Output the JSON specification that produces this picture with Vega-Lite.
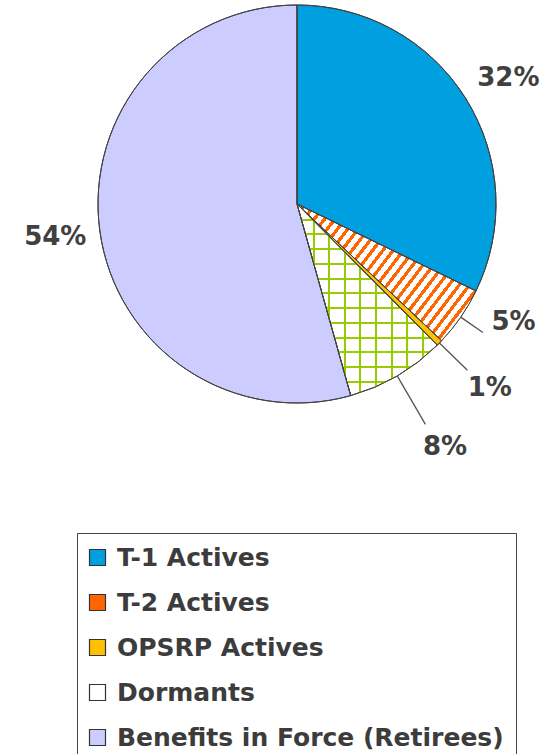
{
  "$schema": "https://vega.github.io/schema/vega-lite/v6.json",
  "width": 400,
  "height": 400,
  "autosize": {"type": "none"},
  "padding": {"left": 97, "top": 4, "right": 47, "bottom": 350},
  "background": "#ffffff",
  "config": {"view": {"stroke": null}},
  "data": {
    "values": [
      {"category": "T-1 Actives", "value": 32.2, "label": "32%", "rank": 1},
      {"category": "T-2 Actives", "value": 4.85, "label": "5%", "rank": 2},
      {"category": "OPSRP Actives", "value": 0.5, "label": "1%", "rank": 3},
      {"category": "Dormants", "value": 8.1, "label": "8%", "rank": 4},
      {"category": "Benefits in Force (Retirees)", "value": 54.35, "label": "54%", "rank": 5}
    ]
  },
  "layer": [
    {
      "mark": {"type": "arc", "radius": 199, "stroke": "#333333", "strokeWidth": 1},
      "encoding": {
        "theta": {"field": "value", "type": "quantitative", "stack": true},
        "order": {"field": "rank", "type": "quantitative"},
        "fill": {
          "field": "category",
          "type": "nominal",
          "scale": {
            "domain": ["T-1 Actives", "T-2 Actives", "OPSRP Actives", "Dormants", "Benefits in Force (Retirees)"],
            "range": ["#00a0e0", "#ff6600", "#ffc000", "#ffffff", "#ccccff"]
          },
          "legend": {
            "orient": "none",
            "legendX": -20,
            "legendY": 529,
            "title": null,
            "symbolType": "square",
            "symbolSize": 256,
            "symbolStrokeColor": "#333333",
            "symbolStrokeWidth": 1,
            "labelFont": "DejaVu Sans",
            "labelFontWeight": "bold",
            "labelFontSize": 25,
            "labelColor": "#3c3c3c",
            "labelOffset": 7,
            "labelLimit": 0,
            "rowPadding": 19,
            "padding": 12,
            "symbolOffset": -4,
            "strokeColor": "#444444",
            "fillColor": "#ffffff",
            "encoding": {
              "symbols": {
                "stroke": {"value": "#333333"},
                "strokeWidth": {"value": 1.2},
                "fill": {"value": {"expr": "datum.value === 'T-2 Actives' ? '#ff9a5c' : datum.value === 'Dormants' ? '#e8f3c4' : scale('fill', datum.value)"}}
              }
            }
          }
        }
      }
    },
    {
      "mark": {"type": "arc", "radius": 199, "strokeWidth": 0},
      "encoding": {
        "theta": {"field": "value", "type": "quantitative", "stack": true},
        "order": {"field": "rank", "type": "quantitative"},
        "fill": {
          "condition": {"test": "datum.category === 'T-2 Actives'", "value": {"gradient": "linear", "x1": 0, "y1": 0, "x2": 1.2, "y2": 0.7, "stops": [
            {"offset": 0, "color": "#ffffff"}, {"offset": 0.0214, "color": "#ffffff"}, {"offset": 0.0214, "color": "rgba(255,255,255,0)"}, {"offset": 0.0357, "color": "rgba(255,255,255,0)"},
            {"offset": 0.0357, "color": "#ffffff"}, {"offset": 0.0571, "color": "#ffffff"}, {"offset": 0.0571, "color": "rgba(255,255,255,0)"}, {"offset": 0.0714, "color": "rgba(255,255,255,0)"},
            {"offset": 0.0714, "color": "#ffffff"}, {"offset": 0.0928, "color": "#ffffff"}, {"offset": 0.0928, "color": "rgba(255,255,255,0)"}, {"offset": 0.1071, "color": "rgba(255,255,255,0)"},
            {"offset": 0.1071, "color": "#ffffff"}, {"offset": 0.1285, "color": "#ffffff"}, {"offset": 0.1285, "color": "rgba(255,255,255,0)"}, {"offset": 0.1429, "color": "rgba(255,255,255,0)"},
            {"offset": 0.1429, "color": "#ffffff"}, {"offset": 0.1643, "color": "#ffffff"}, {"offset": 0.1643, "color": "rgba(255,255,255,0)"}, {"offset": 0.1786, "color": "rgba(255,255,255,0)"},
            {"offset": 0.1786, "color": "#ffffff"}, {"offset": 0.2, "color": "#ffffff"}, {"offset": 0.2, "color": "rgba(255,255,255,0)"}, {"offset": 0.2143, "color": "rgba(255,255,255,0)"},
            {"offset": 0.2143, "color": "#ffffff"}, {"offset": 0.2357, "color": "#ffffff"}, {"offset": 0.2357, "color": "rgba(255,255,255,0)"}, {"offset": 0.25, "color": "rgba(255,255,255,0)"},
            {"offset": 0.25, "color": "#ffffff"}, {"offset": 0.2714, "color": "#ffffff"}, {"offset": 0.2714, "color": "rgba(255,255,255,0)"}, {"offset": 0.2857, "color": "rgba(255,255,255,0)"},
            {"offset": 0.2857, "color": "#ffffff"}, {"offset": 0.3071, "color": "#ffffff"}, {"offset": 0.3071, "color": "rgba(255,255,255,0)"}, {"offset": 0.3214, "color": "rgba(255,255,255,0)"},
            {"offset": 0.3214, "color": "#ffffff"}, {"offset": 0.3428, "color": "#ffffff"}, {"offset": 0.3428, "color": "rgba(255,255,255,0)"}, {"offset": 0.3571, "color": "rgba(255,255,255,0)"},
            {"offset": 0.3571, "color": "#ffffff"}, {"offset": 0.3785, "color": "#ffffff"}, {"offset": 0.3785, "color": "rgba(255,255,255,0)"}, {"offset": 0.3929, "color": "rgba(255,255,255,0)"},
            {"offset": 0.3929, "color": "#ffffff"}, {"offset": 0.4143, "color": "#ffffff"}, {"offset": 0.4143, "color": "rgba(255,255,255,0)"}, {"offset": 0.4286, "color": "rgba(255,255,255,0)"},
            {"offset": 0.4286, "color": "#ffffff"}, {"offset": 0.45, "color": "#ffffff"}, {"offset": 0.45, "color": "rgba(255,255,255,0)"}, {"offset": 0.4643, "color": "rgba(255,255,255,0)"},
            {"offset": 0.4643, "color": "#ffffff"}, {"offset": 0.4857, "color": "#ffffff"}, {"offset": 0.4857, "color": "rgba(255,255,255,0)"}, {"offset": 0.5, "color": "rgba(255,255,255,0)"},
            {"offset": 0.5, "color": "#ffffff"}, {"offset": 0.5214, "color": "#ffffff"}, {"offset": 0.5214, "color": "rgba(255,255,255,0)"}, {"offset": 0.5357, "color": "rgba(255,255,255,0)"},
            {"offset": 0.5357, "color": "#ffffff"}, {"offset": 0.5571, "color": "#ffffff"}, {"offset": 0.5571, "color": "rgba(255,255,255,0)"}, {"offset": 0.5714, "color": "rgba(255,255,255,0)"},
            {"offset": 0.5714, "color": "#ffffff"}, {"offset": 0.5928, "color": "#ffffff"}, {"offset": 0.5928, "color": "rgba(255,255,255,0)"}, {"offset": 0.6071, "color": "rgba(255,255,255,0)"},
            {"offset": 0.6071, "color": "#ffffff"}, {"offset": 0.6285, "color": "#ffffff"}, {"offset": 0.6285, "color": "rgba(255,255,255,0)"}, {"offset": 0.6429, "color": "rgba(255,255,255,0)"},
            {"offset": 0.6429, "color": "#ffffff"}, {"offset": 0.6643, "color": "#ffffff"}, {"offset": 0.6643, "color": "rgba(255,255,255,0)"}, {"offset": 0.6786, "color": "rgba(255,255,255,0)"},
            {"offset": 0.6786, "color": "#ffffff"}, {"offset": 0.7, "color": "#ffffff"}, {"offset": 0.7, "color": "rgba(255,255,255,0)"}, {"offset": 0.7143, "color": "rgba(255,255,255,0)"},
            {"offset": 0.7143, "color": "#ffffff"}, {"offset": 0.7357, "color": "#ffffff"}, {"offset": 0.7357, "color": "rgba(255,255,255,0)"}, {"offset": 0.75, "color": "rgba(255,255,255,0)"},
            {"offset": 0.75, "color": "#ffffff"}, {"offset": 0.7714, "color": "#ffffff"}, {"offset": 0.7714, "color": "rgba(255,255,255,0)"}, {"offset": 0.7857, "color": "rgba(255,255,255,0)"},
            {"offset": 0.7857, "color": "#ffffff"}, {"offset": 0.8071, "color": "#ffffff"}, {"offset": 0.8071, "color": "rgba(255,255,255,0)"}, {"offset": 0.8214, "color": "rgba(255,255,255,0)"},
            {"offset": 0.8214, "color": "#ffffff"}, {"offset": 0.8428, "color": "#ffffff"}, {"offset": 0.8428, "color": "rgba(255,255,255,0)"}, {"offset": 0.8571, "color": "rgba(255,255,255,0)"},
            {"offset": 0.8571, "color": "#ffffff"}, {"offset": 0.8785, "color": "#ffffff"}, {"offset": 0.8785, "color": "rgba(255,255,255,0)"}, {"offset": 0.8929, "color": "rgba(255,255,255,0)"},
            {"offset": 0.8929, "color": "#ffffff"}, {"offset": 0.9143, "color": "#ffffff"}, {"offset": 0.9143, "color": "rgba(255,255,255,0)"}, {"offset": 0.9286, "color": "rgba(255,255,255,0)"},
            {"offset": 0.9286, "color": "#ffffff"}, {"offset": 0.95, "color": "#ffffff"}, {"offset": 0.95, "color": "rgba(255,255,255,0)"}, {"offset": 0.9643, "color": "rgba(255,255,255,0)"},
            {"offset": 0.9643, "color": "#ffffff"}, {"offset": 0.9857, "color": "#ffffff"}, {"offset": 0.9857, "color": "rgba(255,255,255,0)"}, {"offset": 1, "color": "rgba(255,255,255,0)"}
          ]}},
          "value": "transparent"
        }
      }
    },
    {
      "mark": {"type": "arc", "radius": 199, "strokeWidth": 0},
      "encoding": {
        "theta": {"field": "value", "type": "quantitative", "stack": true},
        "order": {"field": "rank", "type": "quantitative"},
        "fill": {
          "condition": {"test": "datum.category === 'Dormants'", "value": {"gradient": "linear", "x1": 0, "y1": 0, "x2": 0, "y2": 1, "stops": [
            {"offset": 0, "color": "#99cc00"}, {"offset": 0.0105, "color": "#99cc00"}, {"offset": 0.0105, "color": "rgba(255,255,255,0)"}, {"offset": 0.0769, "color": "rgba(255,255,255,0)"},
            {"offset": 0.0769, "color": "#99cc00"}, {"offset": 0.0874, "color": "#99cc00"}, {"offset": 0.0874, "color": "rgba(255,255,255,0)"}, {"offset": 0.1538, "color": "rgba(255,255,255,0)"},
            {"offset": 0.1538, "color": "#99cc00"}, {"offset": 0.1643, "color": "#99cc00"}, {"offset": 0.1643, "color": "rgba(255,255,255,0)"}, {"offset": 0.2308, "color": "rgba(255,255,255,0)"},
            {"offset": 0.2308, "color": "#99cc00"}, {"offset": 0.2413, "color": "#99cc00"}, {"offset": 0.2413, "color": "rgba(255,255,255,0)"}, {"offset": 0.3077, "color": "rgba(255,255,255,0)"},
            {"offset": 0.3077, "color": "#99cc00"}, {"offset": 0.3182, "color": "#99cc00"}, {"offset": 0.3182, "color": "rgba(255,255,255,0)"}, {"offset": 0.3846, "color": "rgba(255,255,255,0)"},
            {"offset": 0.3846, "color": "#99cc00"}, {"offset": 0.3951, "color": "#99cc00"}, {"offset": 0.3951, "color": "rgba(255,255,255,0)"}, {"offset": 0.4615, "color": "rgba(255,255,255,0)"},
            {"offset": 0.4615, "color": "#99cc00"}, {"offset": 0.472, "color": "#99cc00"}, {"offset": 0.472, "color": "rgba(255,255,255,0)"}, {"offset": 0.5385, "color": "rgba(255,255,255,0)"},
            {"offset": 0.5385, "color": "#99cc00"}, {"offset": 0.549, "color": "#99cc00"}, {"offset": 0.549, "color": "rgba(255,255,255,0)"}, {"offset": 0.6154, "color": "rgba(255,255,255,0)"},
            {"offset": 0.6154, "color": "#99cc00"}, {"offset": 0.6259, "color": "#99cc00"}, {"offset": 0.6259, "color": "rgba(255,255,255,0)"}, {"offset": 0.6923, "color": "rgba(255,255,255,0)"},
            {"offset": 0.6923, "color": "#99cc00"}, {"offset": 0.7028, "color": "#99cc00"}, {"offset": 0.7028, "color": "rgba(255,255,255,0)"}, {"offset": 0.7692, "color": "rgba(255,255,255,0)"},
            {"offset": 0.7692, "color": "#99cc00"}, {"offset": 0.7797, "color": "#99cc00"}, {"offset": 0.7797, "color": "rgba(255,255,255,0)"}, {"offset": 0.8462, "color": "rgba(255,255,255,0)"},
            {"offset": 0.8462, "color": "#99cc00"}, {"offset": 0.8567, "color": "#99cc00"}, {"offset": 0.8567, "color": "rgba(255,255,255,0)"}, {"offset": 0.9231, "color": "rgba(255,255,255,0)"},
            {"offset": 0.9231, "color": "#99cc00"}, {"offset": 0.9336, "color": "#99cc00"}, {"offset": 0.9336, "color": "rgba(255,255,255,0)"}, {"offset": 1, "color": "rgba(255,255,255,0)"}
          ]}},
          "value": "transparent"
        }
      }
    },
    {
      "mark": {"type": "arc", "radius": 199, "strokeWidth": 0},
      "encoding": {
        "theta": {"field": "value", "type": "quantitative", "stack": true},
        "order": {"field": "rank", "type": "quantitative"},
        "fill": {
          "condition": {"test": "datum.category === 'Dormants'", "value": {"gradient": "linear", "x1": 0, "y1": 0, "x2": 1, "y2": 0, "stops": [
            {"offset": 0, "color": "#99cc00"}, {"offset": 0.015, "color": "#99cc00"}, {"offset": 0.015, "color": "rgba(255,255,255,0)"}, {"offset": 0.1111, "color": "rgba(255,255,255,0)"},
            {"offset": 0.1111, "color": "#99cc00"}, {"offset": 0.1261, "color": "#99cc00"}, {"offset": 0.1261, "color": "rgba(255,255,255,0)"}, {"offset": 0.2222, "color": "rgba(255,255,255,0)"},
            {"offset": 0.2222, "color": "#99cc00"}, {"offset": 0.2372, "color": "#99cc00"}, {"offset": 0.2372, "color": "rgba(255,255,255,0)"}, {"offset": 0.3333, "color": "rgba(255,255,255,0)"},
            {"offset": 0.3333, "color": "#99cc00"}, {"offset": 0.3483, "color": "#99cc00"}, {"offset": 0.3483, "color": "rgba(255,255,255,0)"}, {"offset": 0.4444, "color": "rgba(255,255,255,0)"},
            {"offset": 0.4444, "color": "#99cc00"}, {"offset": 0.4594, "color": "#99cc00"}, {"offset": 0.4594, "color": "rgba(255,255,255,0)"}, {"offset": 0.5556, "color": "rgba(255,255,255,0)"},
            {"offset": 0.5556, "color": "#99cc00"}, {"offset": 0.5706, "color": "#99cc00"}, {"offset": 0.5706, "color": "rgba(255,255,255,0)"}, {"offset": 0.6667, "color": "rgba(255,255,255,0)"},
            {"offset": 0.6667, "color": "#99cc00"}, {"offset": 0.6817, "color": "#99cc00"}, {"offset": 0.6817, "color": "rgba(255,255,255,0)"}, {"offset": 0.7778, "color": "rgba(255,255,255,0)"},
            {"offset": 0.7778, "color": "#99cc00"}, {"offset": 0.7928, "color": "#99cc00"}, {"offset": 0.7928, "color": "rgba(255,255,255,0)"}, {"offset": 0.8889, "color": "rgba(255,255,255,0)"},
            {"offset": 0.8889, "color": "#99cc00"}, {"offset": 0.9039, "color": "#99cc00"}, {"offset": 0.9039, "color": "rgba(255,255,255,0)"}, {"offset": 1, "color": "rgba(255,255,255,0)"}
          ]}},
          "value": "transparent"
        }
      }
    },
    {
      "mark": {"type": "arc", "radius": 199, "fill": "transparent", "stroke": "#444444", "strokeWidth": 1},
      "encoding": {
        "theta": {"field": "value", "type": "quantitative", "stack": true},
        "order": {"field": "rank", "type": "quantitative"}
      }
    },
    {
      "mark": {"type": "arc", "radius": 226, "radius2": 199, "padAngle": 1.5, "fill": "transparent", "strokeWidth": 1.3},
      "encoding": {
        "theta": {"field": "value", "type": "quantitative", "stack": true},
        "order": {"field": "rank", "type": "quantitative"},
        "stroke": {"condition": {"test": "datum.category === 'T-2 Actives'", "value": "#555555"}, "value": "transparent"}
      }
    },
    {
      "mark": {"type": "arc", "radius": 238, "radius2": 199, "padAngle": 1.5, "fill": "transparent", "strokeWidth": 1.3},
      "encoding": {
        "theta": {"field": "value", "type": "quantitative", "stack": true},
        "order": {"field": "rank", "type": "quantitative"},
        "stroke": {"condition": {"test": "datum.category === 'OPSRP Actives'", "value": "#555555"}, "value": "transparent"}
      }
    },
    {
      "mark": {"type": "arc", "radius": 255, "radius2": 199, "padAngle": 1.5, "fill": "transparent", "strokeWidth": 1.3},
      "encoding": {
        "theta": {"field": "value", "type": "quantitative", "stack": true},
        "order": {"field": "rank", "type": "quantitative"},
        "stroke": {"condition": {"test": "datum.category === 'Dormants'", "value": "#555555"}, "value": "transparent"}
      }
    },
    {
      "mark": {"type": "text", "radius": 247, "font": "DejaVu Sans", "fontWeight": "bold", "fontSize": 26, "color": "#404040", "dx": 2, "dy": 5},
      "encoding": {
        "theta": {"field": "value", "type": "quantitative", "stack": true},
        "order": {"field": "rank", "type": "quantitative"},
        "text": {"field": "label"},
        "opacity": {"condition": {"test": "datum.category === 'T-1 Actives'", "value": 1}, "value": 0}
      }
    },
    {
      "mark": {"type": "text", "radius": 244, "font": "DejaVu Sans", "fontWeight": "bold", "fontSize": 26, "color": "#404040", "dx": 0, "dy": 0},
      "encoding": {
        "theta": {"field": "value", "type": "quantitative", "stack": true},
        "order": {"field": "rank", "type": "quantitative"},
        "text": {"field": "label"},
        "opacity": {"condition": {"test": "datum.category === 'Benefits in Force (Retirees)'", "value": 1}, "value": 0}
      }
    },
    {
      "mark": {"type": "text", "radius": 245, "font": "DejaVu Sans", "fontWeight": "bold", "fontSize": 26, "color": "#404040", "dx": 15, "dy": -21},
      "encoding": {
        "theta": {"field": "value", "type": "quantitative", "stack": true},
        "order": {"field": "rank", "type": "quantitative"},
        "text": {"field": "label"},
        "opacity": {"condition": {"test": "datum.category === 'T-2 Actives'", "value": 1}, "value": 0}
      }
    },
    {
      "mark": {"type": "text", "radius": 265, "font": "DejaVu Sans", "fontWeight": "bold", "fontSize": 26, "color": "#404040", "dx": 3, "dy": -1},
      "encoding": {
        "theta": {"field": "value", "type": "quantitative", "stack": true},
        "order": {"field": "rank", "type": "quantitative"},
        "text": {"field": "label"},
        "opacity": {"condition": {"test": "datum.category === 'OPSRP Actives'", "value": 1}, "value": 0}
      }
    },
    {
      "mark": {"type": "text", "radius": 280, "font": "DejaVu Sans", "fontWeight": "bold", "fontSize": 26, "color": "#404040", "dx": 7, "dy": 1},
      "encoding": {
        "theta": {"field": "value", "type": "quantitative", "stack": true},
        "order": {"field": "rank", "type": "quantitative"},
        "text": {"field": "label"},
        "opacity": {"condition": {"test": "datum.category === 'Dormants'", "value": 1}, "value": 0}
      }
    }
  ]
}
